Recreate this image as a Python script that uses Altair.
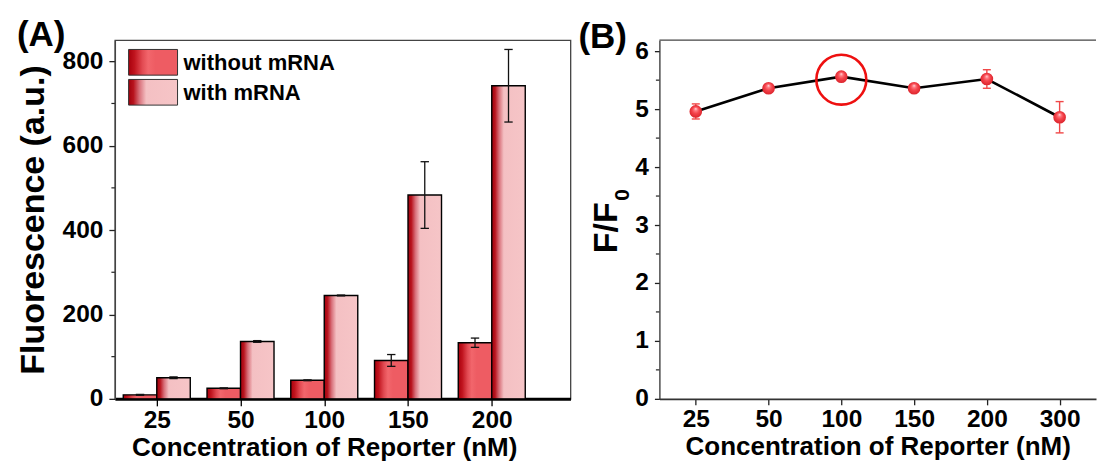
import json
import altair as alt
import pandas as pd

# ---------------- data ----------------
A_CATS = ["25", "50", "100", "150", "200"]
A_WITHOUT = [9.5, 25, 44, 91, 133]
A_WITHOUT_ERR = [1, 1, 1, 14, 11]
A_WITH = [50, 136, 245, 483, 742]
A_WITH_ERR = [2, 2, 1, 79, 86]
A_MAJOR = [0, 200, 400, 600, 800]
A_MINOR = [100, 300, 500, 700]
SERIES = ["without mRNA", "with mRNA"]

B_CATS = ["25", "50", "100", "150", "200", "300"]
B_RATIO = [4.96, 5.36, 5.56, 5.36, 5.52, 4.86]
B_ERR = [0.13, 0.03, 0.03, 0.03, 0.16, 0.27]
B_HIGHLIGHT = "100"
B_MAJOR = [0, 1, 2, 3, 4, 5, 6]
B_MINOR = [0.5, 1.5, 2.5, 3.5, 4.5, 5.5]

A_XTITLE = "Concentration of Reporter (nM)"
A_YTITLE = "Fluorescence (a.u.)"
B_XTITLE = "Concentration of Reporter (nM)"
B_YTITLE_MAIN = "F/F"
B_YTITLE_SUB = "0"
PANEL_A = "(A)"
PANEL_B = "(B)"

FONT = "Liberation Sans"

# ---------------- styles ----------------
GRAD_WITHOUT = {
    "gradient": "linear", "x1": 0, "y1": 0, "x2": 1, "y2": 0,
    "stops": [
        {"offset": 0.0, "color": "#a8000c"},
        {"offset": 0.12, "color": "#c0141e"},
        {"offset": 0.28, "color": "#e24a52"},
        {"offset": 0.40, "color": "#f2666c"},
        {"offset": 0.55, "color": "#ee5c63"},
        {"offset": 1.0, "color": "#ee5c63"},
    ],
}
GRAD_WITH = {
    "gradient": "linear", "x1": 0, "y1": 0, "x2": 1, "y2": 0,
    "stops": [
        {"offset": 0.0, "color": "#a0000c"},
        {"offset": 0.10, "color": "#b8141e"},
        {"offset": 0.22, "color": "#d8707a"},
        {"offset": 0.36, "color": "#f4c0c3"},
        {"offset": 1.0, "color": "#f6c5c7"},
    ],
}
SPHERE = {
    "gradient": "radial", "x1": 0.5, "y1": 0.28, "r1": 0.0,
    "x2": 0.5, "y2": 0.5, "r2": 0.55,
    "stops": [
        {"offset": 0.0, "color": "#ffe4e4"},
        {"offset": 0.22, "color": "#ff7a82"},
        {"offset": 0.5, "color": "#f5444c"},
        {"offset": 1.0, "color": "#d82028"},
    ],
}

# ---------------- panel A ----------------
dfA = pd.DataFrame({
    "idx": list(range(1, len(A_CATS) + 1)),
    "cat": A_CATS,
    "wo": A_WITHOUT, "wo_err": A_WITHOUT_ERR,
    "wi": A_WITH, "wi_err": A_WITH_ERR,
})

xsA = alt.Scale(domain=[0.5, 5.94], nice=False, zero=False)
ysA = alt.Scale(domain=[0, 850], nice=False)

xaxisA = alt.Axis(
    values=list(range(1, len(A_CATS) + 1)),
    labelExpr=f"{json.dumps(A_CATS)}[datum.value - 1]",
    title=A_XTITLE, titleX=209.5, titlePadding=2,
    tickSize=7, tickWidth=1.3, tickColor="black",
    domainColor="black", domainWidth=3,
    labelPadding=3, grid=False,
)
yaxisA = alt.Axis(
    values=A_MAJOR, format="d", title=A_YTITLE,
    tickSize=6, tickWidth=1.3, tickColor="#222",
    domainColor="#444", domainWidth=1.3,
    labelPadding=6, titlePadding=12, grid=False,
)


def XA(f):
    return alt.X(f, scale=xsA, axis=xaxisA)


def YA(f):
    return alt.Y(f, scale=ysA, axis=yaxisA)


baseA = alt.Chart(dfA)

bars_wo = baseA.transform_calculate(
    x1="datum.idx - 0.4", x2="datum.idx"
).mark_bar(fill=GRAD_WITHOUT, stroke="black", strokeWidth=1.4).encode(
    x=XA("x1:Q"), x2="x2:Q", y=YA("wo:Q"), y2=alt.datum(0),
)
bars_wi = baseA.transform_calculate(
    x1="datum.idx", x2="datum.idx + 0.4"
).mark_bar(fill=GRAD_WITH, stroke="black", strokeWidth=1.4).encode(
    x=XA("x1:Q"), x2="x2:Q", y=YA("wi:Q"), y2=alt.datum(0),
)


def err_layers(base, val, err, shift, X, Y, half, color, width):
    b = base.transform_calculate(
        cx=f"datum.idx + ({shift})",
        c1=f"datum.idx + ({shift}) - {half}",
        c2=f"datum.idx + ({shift}) + {half}",
        lo=f"datum.{val} - datum.{err}",
        hi=f"datum.{val} + datum.{err}",
    )
    stem = b.mark_rule(color=color, strokeWidth=width).encode(
        x=X("cx:Q"), y=Y("lo:Q"), y2="hi:Q",
    )
    cap_lo = b.mark_rule(color=color, strokeWidth=width).encode(
        x=X("c1:Q"), x2="c2:Q", y=Y("lo:Q"),
    )
    cap_hi = b.mark_rule(color=color, strokeWidth=width).encode(
        x=X("c1:Q"), x2="c2:Q", y=Y("hi:Q"),
    )
    return [stem, cap_lo, cap_hi]


errA = err_layers(baseA, "wo", "wo_err", -0.2, XA, YA, 0.05, "#111", 1.3) + \
    err_layers(baseA, "wi", "wi_err", 0.2, XA, YA, 0.05, "#111", 1.3)

minorA = alt.Chart(pd.DataFrame({"v": A_MINOR})).mark_rule(
    color="#222", strokeWidth=1.2
).encode(
    y=YA("v:Q"), x=alt.value(-3.5), x2=alt.value(0),
)

one = pd.DataFrame({"t": [0]})
leg_rect1 = alt.Chart(one).mark_rect(fill=GRAD_WITHOUT, stroke="#333", strokeWidth=1).encode(
    x=alt.value(13.7), x2=alt.value(62.7), y=alt.value(9.3), y2=alt.value(35),
)
leg_rect2 = alt.Chart(one).mark_rect(fill=GRAD_WITH, stroke="#333", strokeWidth=1).encode(
    x=alt.value(13.7), x2=alt.value(62.7), y=alt.value(39.3), y2=alt.value(65),
)
leg_txt1 = alt.Chart(pd.DataFrame({"t": [SERIES[0]]})).mark_text(
    font=FONT, fontWeight="bold", fontSize=22, align="left", baseline="middle", color="black"
).encode(text="t:N", x=alt.value(68.7), y=alt.value(22.5))
leg_txt2 = alt.Chart(pd.DataFrame({"t": [SERIES[1]]})).mark_text(
    font=FONT, fontWeight="bold", fontSize=22, align="left", baseline="middle", color="black"
).encode(text="t:N", x=alt.value(68.7), y=alt.value(52.5))

labelA = alt.Chart(pd.DataFrame({"t": [PANEL_A]})).mark_text(
    font=FONT, fontWeight="bold", fontSize=35, align="left", baseline="alphabetic", color="black"
).encode(text="t:N", x=alt.value(-98), y=alt.value(5.8))

panelA = alt.layer(
    bars_wo, bars_wi, *errA, minorA, leg_rect1, leg_rect2, leg_txt1, leg_txt2, labelA
).properties(width=456, height=359)

# ---------------- panel B ----------------
dfB = pd.DataFrame({
    "idx": list(range(1, len(B_CATS) + 1)),
    "cat": B_CATS,
    "r": B_RATIO, "r_err": B_ERR,
})
xsB = alt.Scale(domain=[0.5, 6.5], nice=False, zero=False)
ysB = alt.Scale(domain=[0, 6.19], nice=False)

xaxisB = alt.Axis(
    values=list(range(1, len(B_CATS) + 1)),
    labelExpr=f"{json.dumps(B_CATS)}[datum.value - 1]",
    title=B_XTITLE, titlePadding=2,
    tickSize=6, tickWidth=1.3, tickColor="#222",
    domainColor="#333", domainWidth=1.6,
    labelPadding=3, grid=False,
)
yaxisB = alt.Axis(
    values=B_MAJOR, format="d", title=None,
    tickSize=5, tickWidth=1.3, tickColor="#222",
    domainColor="#333", domainWidth=1.3,
    labelPadding=6, grid=False,
)


def XB(f):
    return alt.X(f, scale=xsB, axis=xaxisB)


def YB(f):
    return alt.Y(f, scale=ysB, axis=yaxisB)


baseB = alt.Chart(dfB)

lineB = baseB.mark_line(color="black", strokeWidth=2.6).encode(
    x=XB("idx:Q"), y=YB("r:Q"),
)
errB = err_layers(baseB, "r", "r_err", 0, XB, YB, 0.055, "#f04848", 1.4)
ptsB = baseB.mark_point(shape="circle", filled=True, fill=SPHERE, opacity=1, size=160, strokeWidth=0).encode(
    x=XB("idx:Q"), y=YB("r:Q"),
)
circB = baseB.transform_filter(f"datum.cat == '{B_HIGHLIGHT}'").mark_point(
    shape="circle", filled=False, color="#ee1010", strokeWidth=2.6, size=2500, opacity=1
).encode(
    x=XB("idx:Q"), y=YB("r:Q"), yOffset=alt.value(3),
)
minorB = alt.Chart(pd.DataFrame({"v": B_MINOR})).mark_rule(
    color="#222", strokeWidth=1.2
).encode(
    y=YB("v:Q"), x=alt.value(-3.5), x2=alt.value(0),
)
topB = alt.Chart(one).mark_rule(color="#444", strokeWidth=1.3).encode(
    x=alt.value(0), x2=alt.value(437), y=alt.value(0)
)
ytitleB = alt.Chart(pd.DataFrame({"t": [B_YTITLE_MAIN]})).mark_text(
    font=FONT, fontWeight="bold", fontSize=34, angle=270, align="center", baseline="middle", color="black"
).encode(text="t:N", x=alt.value(-52.5), y=alt.value(187.7))
ysubB = alt.Chart(pd.DataFrame({"t": [B_YTITLE_SUB]})).mark_text(
    font=FONT, fontWeight="bold", fontSize=21, angle=270, align="center", baseline="middle", color="black"
).encode(text="t:N", x=alt.value(-36.5), y=alt.value(155))
labelB = alt.Chart(pd.DataFrame({"t": [PANEL_B]})).mark_text(
    font=FONT, fontWeight="bold", fontSize=35, align="left", baseline="alphabetic", color="black"
).encode(text="t:N", x=alt.value(-81), y=alt.value(7.5))

panelB = alt.layer(
    lineB, *errB, ptsB, circB, minorB, topB, ytitleB, ysubB, labelB
).properties(width=437, height=359, view=alt.ViewBackground(strokeOpacity=0))

chart = alt.hconcat(panelA, panelB, spacing=7).properties(
    padding={"left": 15, "top": 17, "right": 0, "bottom": 0}
).configure_view(
    stroke="#444", strokeWidth=1.3
).configure_axis(
    labelFont=FONT, labelFontWeight="bold", labelFontSize=24.5, labelColor="black",
    titleFont=FONT, titleFontWeight="bold", titleColor="black",
).configure_axisX(
    titleFontSize=26,
).configure_axisY(
    titleFontSize=34,
)

chart.save("out.html", embed_options={"renderer": "svg", "actions": False})
